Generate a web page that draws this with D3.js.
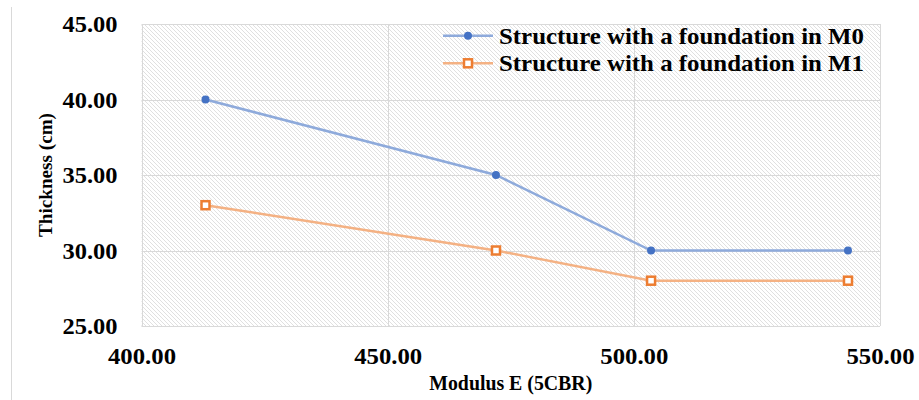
<!DOCTYPE html>
<html>
<head>
<meta charset="utf-8">
<script src="https://cdn.jsdelivr.net/npm/d3@7/dist/d3.min.js"></script>
<style>
  html, body { margin: 0; padding: 0; background: #fff; }
  svg { display: block; }
</style>
</head>
<body>
<svg id="chart" width="919" height="400"></svg>
<script>
// Modulus E (5CBR) for each structure
const modulus = [413, 472, 503.5, 543.5];
// Layer thickness (cm)
const thicknessM0 = [40, 35, 30, 30];
const thicknessM1 = [33, 30, 28, 28];
const seriesNames = ["Structure with a foundation in M0", "Structure with a foundation in M1"];
const xTicks = [400, 450, 500, 550];
const yTicks = [25, 30, 35, 40, 45];

const FONT = "'Liberation Serif', 'Times New Roman', Times, serif";

const svg = d3.select("#chart");
const W = 919, H = 400;
const plot = { left: 141.5, right: 880, top: 24, bottom: 326 };

const x = d3.scaleLinear().domain([400, 550]).range([plot.left, plot.right]);
const y = d3.scaleLinear().domain([25, 45]).range([plot.bottom, plot.top]);

function serif(sel, size) {
  return sel.style("font-family", FONT).style("font-weight", "bold")
    .style("font-size", size + "px").attr("fill", "#000");
}

// diagonal hatch fill for the plot area
const defs = svg.append("defs");
const pat = defs.append("pattern")
  .attr("id", "hatch")
  .attr("patternUnits", "userSpaceOnUse")
  .attr("width", 4).attr("height", 4);
pat.append("rect").attr("width", 4).attr("height", 4).attr("fill", "#fff");
pat.append("path")
  .attr("d", "M-1,-1 L5,5 M3,-1 L5,1 M-1,3 L1,5")
  .attr("stroke", "#e0e0e0").attr("stroke-width", 1);

// chart-area edge
svg.append("line")
  .attr("x1", 11.5).attr("x2", 11.5).attr("y1", 7).attr("y2", H)
  .attr("stroke", "#d9d9d9").attr("stroke-width", 1);

svg.append("rect")
  .attr("x", plot.left).attr("y", plot.top)
  .attr("width", plot.right - plot.left).attr("height", plot.bottom - plot.top)
  .attr("fill", "url(#hatch)");

// gridlines
const grid = svg.append("g").attr("stroke", "#d9d9d9").attr("stroke-width", 1);
grid.selectAll(".gy").data(yTicks).enter().append("line")
  .attr("x1", plot.left).attr("x2", plot.right)
  .attr("y1", d => Math.round(y(d)) + 0.5).attr("y2", d => Math.round(y(d)) + 0.5);
grid.selectAll(".gx").data(xTicks).enter().append("line")
  .attr("y1", plot.top).attr("y2", plot.bottom)
  .attr("x1", d => Math.round(x(d)) + 0.5).attr("x2", d => Math.round(x(d)) + 0.5);

// axes (labels only)
const yAxis = svg.append("g")
  .attr("transform", `translate(${plot.left},0)`)
  .call(d3.axisLeft(y).tickValues(yTicks).tickFormat(d3.format(".2f")).tickSize(0).tickPadding(24))
  .attr("font-family", null);
yAxis.select(".domain").remove();
serif(yAxis.selectAll("text"), 24).attr("dy", "0.33em")
  .attr("textLength", 55).attr("lengthAdjust", "spacingAndGlyphs");

const xAxis = svg.append("g")
  .attr("transform", `translate(0,${plot.bottom})`)
  .call(d3.axisBottom(x).tickValues(xTicks).tickFormat(d3.format(".2f")).tickSize(0).tickPadding(21))
  .attr("font-family", null);
xAxis.select(".domain").remove();
serif(xAxis.selectAll("text"), 24).attr("dy", "0.71em")
  .attr("textLength", 68).attr("lengthAdjust", "spacingAndGlyphs");

// axis titles
serif(svg.append("text"), 22)
  .attr("x", (plot.left + plot.right) / 2).attr("y", 390)
  .attr("text-anchor", "middle")
  .attr("textLength", 163).attr("lengthAdjust", "spacingAndGlyphs")
  .text("Modulus E (5CBR)");
serif(svg.append("text"), 18)
  .attr("transform", `translate(52,${(plot.top + plot.bottom) / 2}) rotate(-90)`)
  .attr("text-anchor", "middle")
  .attr("textLength", 124).attr("lengthAdjust", "spacingAndGlyphs")
  .text("Thickness (cm)");

// series
const colors = [
  { line: "#8eaadb", mark: "#4472c4" },
  { line: "#f4b183", mark: "#ed7d31" }
];
const line = d3.line().x(d => x(d[0])).y(d => y(d[1]));
const s0 = modulus.map((m, i) => [m, thicknessM0[i]]);
const s1 = modulus.map((m, i) => [m, thicknessM1[i]]);

svg.append("path").datum(s0).attr("d", line)
  .attr("fill", "none").attr("stroke", colors[0].line).attr("stroke-width", 2.5);
svg.append("path").datum(s1).attr("d", line)
  .attr("fill", "none").attr("stroke", colors[1].line).attr("stroke-width", 2.5);

const dot = d3.symbol().type(d3.symbolCircle).size(50);
svg.selectAll(".m0").data(s0).enter().append("path")
  .attr("d", dot)
  .attr("transform", d => `translate(${x(d[0])},${y(d[1])})`)
  .attr("fill", colors[0].mark);
svg.selectAll(".m1").data(s1).enter().append("rect")
  .attr("x", d => x(d[0]) - 4).attr("y", d => y(d[1]) - 4)
  .attr("width", 8).attr("height", 8)
  .attr("fill", "#fff").attr("stroke", colors[1].mark).attr("stroke-width", 2.5);

// legend
const lg = svg.append("g");
const rows = [35.7, 63.3];
seriesNames.forEach((name, i) => {
  const g = lg.append("g").attr("transform", `translate(0,${rows[i]})`);
  g.append("line").attr("x1", 443).attr("x2", 493)
    .attr("stroke", colors[i].line).attr("stroke-width", 2.5);
  if (i === 0) {
    g.append("path").attr("d", dot).attr("transform", "translate(468,0)")
      .attr("fill", colors[0].mark);
  } else {
    g.append("rect").attr("x", 464).attr("y", -4).attr("width", 8).attr("height", 8)
      .attr("fill", "#fff").attr("stroke", colors[1].mark).attr("stroke-width", 2.5);
  }
  serif(g.append("text"), 23).attr("x", 499).attr("y", 7.8)
    .attr("textLength", 365).attr("lengthAdjust", "spacingAndGlyphs")
    .text(name);
});
</script>
</body>
</html>
